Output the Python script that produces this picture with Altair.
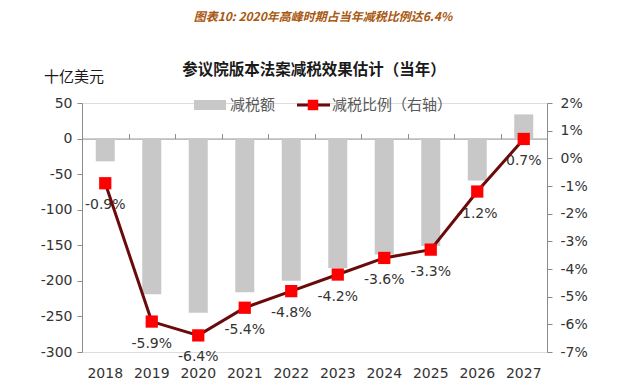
import altair as alt
import pandas as pd

years = ["2018", "2019", "2020", "2021", "2022", "2023", "2024", "2025", "2026", "2027"]
cut_amount = [-32, -219, -245, -216, -200, -182, -163, -151, -59, 34]
cut_ratio = [-0.9, -5.9, -6.4, -5.4, -4.8, -4.2, -3.6, -3.3, -1.2, 0.7]
left_ticks = [50, 0, -50, -100, -150, -200, -250, -300]
right_ticks = [2, 1, 0, -1, -2, -3, -4, -5, -6, -7]

main_title = "图表10: 2020年高峰时期占当年减税比例达6.4%"
sub_title = "参议院版本法案减税效果估计（当年）"
unit_label = "十亿美元"
legend_bar = "减税额"
legend_line = "减税比例（右轴）"

df = pd.DataFrame({"year": years, "cut": cut_amount, "ratio": cut_ratio})
df["label"] = [f"{v:.1f}%" for v in cut_ratio]

W, H = 465, 249
CJK = "Noto Sans CJK SC"
NUM = "DejaVu Sans"
AXC = "#8c8c8c"
TXC = "#333333"

xscale = alt.Scale(domain=years, paddingInner=0, paddingOuter=0)
yl = alt.Scale(domain=[-300, 50], nice=False, zero=False)
yr = alt.Scale(domain=[-7, 2], nice=False, zero=False)

right_axis = alt.Axis(orient="right", values=right_ticks, grid=False, domainColor=AXC,
                      tickColor=AXC, tickSize=5, labelPadding=8, labelFontSize=14,
                      labelFont=NUM, labelColor=TXC, labelExpr="datum.value + '%'")

base = alt.Chart(df)

bars = base.mark_bar(color="#c8c8c8", size=19).encode(
    x=alt.X("year:N", scale=xscale, sort=years, title=None,
            axis=alt.Axis(orient="bottom", domain=False, ticks=False, labelAngle=0,
                          labelFontSize=14, labelFont=NUM, labelColor=TXC, labelPadding=14)),
    y=alt.Y("cut:Q", scale=yl, title=None,
            axis=alt.Axis(orient="left", values=left_ticks, grid=False, domainColor=AXC,
                          tickColor=AXC, tickSize=5, labelPadding=5, labelFontSize=14,
                          labelFont=NUM, labelColor=TXC, labelExpr="datum.value + ''")),
)

zero_axis = base.mark_text(text="").encode(
    x=alt.X("year:N", scale=xscale, sort=years, title=None,
            axis=alt.Axis(orient="top", offset=-H * 50 / 350, labels=False, domainColor=AXC,
                          tickColor=AXC, tickSize=5, tickBand="extent")),
    y=alt.value(0),
)

labels = base.mark_text(dy=22, fontSize=14, font=NUM, color=TXC).encode(
    x=alt.X("year:N", scale=xscale, sort=years, axis=None),
    y=alt.Y("ratio:Q", scale=yr, title=None, axis=right_axis),
    text="label:N",
)

line = base.mark_line(color="#6b0a0a", strokeWidth=3).encode(
    x=alt.X("year:N", scale=xscale, sort=years, axis=None),
    y=alt.Y("ratio:Q", scale=yr, title=None, axis=right_axis),
)

points = base.mark_point(shape="square", filled=True, size=150, color="#ff0000", opacity=1).encode(
    x=alt.X("year:N", scale=xscale, sort=years, axis=None),
    y=alt.Y("ratio:Q", scale=yr, title=None, axis=right_axis),
)

ratio_layer = alt.layer(labels, line, points)

one = pd.DataFrame({"a": [0]})
def txt(s, x, y, size, color, font=CJK, weight="normal", align="center", italic=False):
    m = alt.Chart(one).mark_text(text=s, fontSize=size, color=color, font=font,
                                 fontWeight=weight, align=align, baseline="middle",
                                 fontStyle="italic" if italic else "normal")
    return m.encode(x=alt.value(x), y=alt.value(y))

t_main = txt(main_title, 241, -86, 12, "#a8580f", weight="bold", italic=True)
t_sub = txt(sub_title, 232, -33, 15.5, "#1a1a1a", weight="bold")
t_unit = txt(unit_label, -8, -26, 15, "#1a1a1a")

leg_rect = alt.Chart(one).mark_rect(color="#c8c8c8").encode(
    x=alt.value(112), x2=alt.value(144), y=alt.value(-3), y2=alt.value(7))
leg_t1 = txt(legend_bar, 148, 2, 15, "#595959", align="left")
leg_line = alt.Chart(one).mark_rule(color="#6b0a0a", strokeWidth=3).encode(
    x=alt.value(215), x2=alt.value(248), y=alt.value(2))
leg_sq = alt.Chart(one).mark_point(shape="square", filled=True, size=110, color="#ff0000", opacity=1).encode(
    x=alt.value(231), y=alt.value(2))
leg_t2 = txt(legend_line, 250, 2, 15, "#595959", align="left")

chart = alt.layer(
    bars, zero_axis, ratio_layer,
    t_main, t_sub, t_unit, leg_rect, leg_t1, leg_line, leg_sq, leg_t2,
).resolve_scale(y="independent").resolve_axis(x="independent").properties(
    width=W, height=H,
    autosize=alt.AutoSizeParams(type="none"),
    padding={"left": 74, "top": 95, "right": 83, "bottom": 27},
).configure_view(stroke=None).configure(background="white")

chart.save("out.html", embed_options={"renderer": "svg", "actions": False})
